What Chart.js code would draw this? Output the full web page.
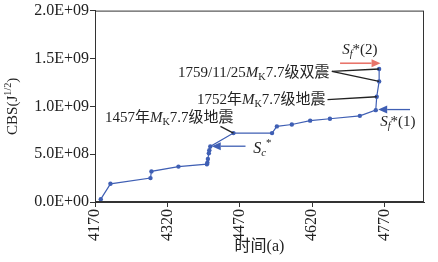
<!DOCTYPE html>
<html>
<head>
<meta charset="utf-8">
<script src="https://cdn.jsdelivr.net/npm/chart.js@4/dist/chart.umd.min.js"></script>
<style>
  html, body { margin: 0; padding: 0; background: #fff; }
  #wrap { width: 438px; height: 262px; }
</style>
</head>
<body>
<div id="wrap"><canvas id="cbsChart" width="438" height="262"></canvas></div>
<script>
// time axis (a) and cumulative Benioff strain values
var years = [4182, 4202, 4285, 4287, 4343, 4402, 4403, 4404, 4406, 4407, 4409, 4457, 4537, 4547, 4578, 4616, 4657, 4719, 4752, 4754, 4759, 4759];
var cbs = [0.3e8, 1.9e8, 2.5e8, 3.2e8, 3.7e8, 3.95e8, 4.1e8, 4.5e8, 5.1e8, 5.4e8, 5.8e8, 7.2e8, 7.2e8, 7.9e8, 8.1e8, 8.5e8, 8.7e8, 9.0e8, 9.6e8, 1.1e9, 1.26e9, 1.39e9];
var xTicks = [4170, 4320, 4470, 4620, 4770];
var yTicks = [0, 5e8, 1e9, 1.5e9, 2e9];

var serif = "'Liberation Serif', 'Noto Sans CJK SC', serif";
var blue = "#3f5fb4";

function fmtE(v) {
    if (v === 0) return "0.0E+00";
    var e = Math.floor(Math.log10(v));
    var m = v / Math.pow(10, e);
    return m.toFixed(1) + "E+" + (e < 10 ? "0" + e : e);
}

// draw text made of pieces: {t, i (italic), sub, sup}
function richWidth(ctx, segs, size) {
    var w = 0;
    segs.forEach(function (s) {
        var fs = (s.sub || s.sup) ? size * 0.68 : size;
        ctx.font = (s.i ? "italic " : "") + fs + "px " + serif;
        w += ctx.measureText(s.t).width;
    });
    return w;
}
function drawRich(ctx, segs, x, y, align, size) {
    var w = richWidth(ctx, segs, size);
    var cx = align === "right" ? x - w : (align === "center" ? x - w / 2 : x);
    ctx.textBaseline = "middle";
    ctx.textAlign = "left";
    segs.forEach(function (s) {
        var fs = (s.sub || s.sup) ? size * 0.68 : size;
        ctx.font = (s.i ? "italic " : "") + fs + "px " + serif;
        var dy = s.sub ? size * 0.3 : (s.sup ? -size * 0.3 : 0);
        ctx.fillText(s.t, cx, y + dy);
        cx += ctx.measureText(s.t).width;
    });
}
function arrow(ctx, x1, y1, x2, y2, color, lw) {
    var a = Math.atan2(y2 - y1, x2 - x1), hl = 9, hw = 4;
    ctx.strokeStyle = color; ctx.fillStyle = color; ctx.lineWidth = lw;
    ctx.beginPath(); ctx.moveTo(x1, y1);
    ctx.lineTo(x2 - hl * Math.cos(a), y2 - hl * Math.sin(a)); ctx.stroke();
    ctx.beginPath();
    ctx.moveTo(x2, y2);
    ctx.lineTo(x2 - hl * Math.cos(a) - hw * Math.sin(a), y2 - hl * Math.sin(a) + hw * Math.cos(a));
    ctx.lineTo(x2 - hl * Math.cos(a) + hw * Math.sin(a), y2 - hl * Math.sin(a) - hw * Math.cos(a));
    ctx.closePath(); ctx.fill();
}
function line(ctx, x1, y1, x2, y2) {
    ctx.strokeStyle = "#222"; ctx.lineWidth = 1.3;
    ctx.beginPath(); ctx.moveTo(x1, y1); ctx.lineTo(x2, y2); ctx.stroke();
}

var notesPlugin = {
    id: "notes",
    afterDraw: function (chart) {
        var ctx = chart.ctx, xs = chart.scales.x, ys = chart.scales.y, a = chart.chartArea;
        var X = function (v) { return xs.getPixelForValue(v); };
        var Y = function (v) { return ys.getPixelForValue(v); };
        ctx.save();
        // frame
        ctx.strokeStyle = "#333"; ctx.lineWidth = 1;
        ctx.strokeRect(a.left + 0.5, a.top + 0.5, a.right - a.left - 1, a.bottom - a.top - 1);

        ctx.fillStyle = "#222";
        var n = years.length;
        // Sf*(2)
        drawRich(ctx, [{t: "S", i: true}, {t: "f", i: true, sub: true}, {t: "*(2)"}], X(4719), Y(1.59e9), "center", 15);
        arrow(ctx, X(4678), Y(1.45e9), X(4762), Y(1.45e9), "#e8746a", 1.6);
        // 1759 double quake
        ctx.fillStyle = "#222";
        drawRich(ctx, [{t: "1759/11/25"}, {t: "M", i: true}, {t: "K", sub: true}, {t: "7.7级双震"}], X(4656), Y(1.35e9), "right", 15);
        line(ctx, X(4661), Y(1.365e9), X(years[n - 1]), Y(cbs[n - 1]));
        line(ctx, X(4661), Y(1.365e9), X(years[n - 2]), Y(cbs[n - 2]));
        // 1752 quake
        ctx.fillStyle = "#222";
        drawRich(ctx, [{t: "1752年"}, {t: "M", i: true}, {t: "K", sub: true}, {t: "7.7级地震"}], X(4648), Y(1.07e9), "right", 15);
        line(ctx, X(4652), Y(1.07e9), X(years[n - 3]), Y(cbs[n - 3]));
        // 1457 quake
        ctx.fillStyle = "#222";
        drawRich(ctx, [{t: "1457年"}, {t: "M", i: true}, {t: "K", sub: true}, {t: "7.7级地震"}], X(4324), Y(8.75e8), "center", 15);
        line(ctx, X(4430), Y(7.9e8), X(years[11]), Y(cbs[11]));
        // Sc*
        arrow(ctx, X(4482), Y(5.83e8), X(4412), Y(5.83e8), blue, 1.3);
        ctx.fillStyle = "#222";
        drawRich(ctx, [{t: "S", i: true}, {t: "c", i: true, sub: true}, {t: "*", sup: true}], X(4517), Y(5.6e8), "center", 16);
        // Sf*(1)
        arrow(ctx, X(4823), Y(9.66e8), X(4757), Y(9.66e8), blue, 1.3);
        ctx.fillStyle = "#222";
        drawRich(ctx, [{t: "S", i: true}, {t: "f", i: true, sub: true}, {t: "*(1)"}], X(4798), Y(8.35e8), "center", 15);

        // axis titles
        ctx.fillStyle = "#222";
        drawRich(ctx, [{t: "时间(a)"}], (a.left + a.right) / 2, 247, "center", 16);
        ctx.translate(13, (a.top + a.bottom) / 2);
        ctx.rotate(-Math.PI / 2);
        drawRich(ctx, [{t: "CBS(J"}, {t: "1/2", sup: true}, {t: ")"}], 0, 0, "center", 15);
        ctx.restore();
    }
};

var cbsCtx = document.getElementById("cbsChart");

var cbsData = {
    datasets: [
        {
            data: years.map(function (y, i) { return {x: y, y: cbs[i]}; }),
            borderColor: blue,
            backgroundColor: blue,
            borderWidth: 1.2,
            pointRadius: 2.2,
            pointHoverRadius: 2.2,
            pointBorderWidth: 0,
            tension: 0
        }
    ]
};

var cbsChart = new Chart(cbsCtx, {
    type: "line",
    data: cbsData,
    options: {
        responsive: false,
        animation: false,
        layout: {padding: {top: 10, right: 14, left: 0, bottom: 0}},
        plugins: {legend: {display: false}, tooltip: {enabled: false}},
        scales: {
            x: {
                type: "linear",
                min: 4170,
                max: 4852,
                afterBuildTicks: function (s) { s.ticks = xTicks.map(function (v) { return {value: v}; }); },
                afterFit: function (s) { s.height = 60; },
                grid: {drawOnChartArea: false, drawTicks: true, tickLength: 5, color: "#333"},
                border: {color: "#333"},
                ticks: {
                    minRotation: 90, maxRotation: 90, padding: 2, color: "#222",
                    font: {family: serif, size: 16},
                    callback: function (v) { return String(v); }
                }
            },
            y: {
                min: 0,
                max: 2e9,
                afterBuildTicks: function (s) { s.ticks = yTicks.map(function (v) { return {value: v}; }); },
                afterFit: function (s) { s.width = 95; },
                grid: {drawOnChartArea: false, drawTicks: true, tickLength: 5, color: "#333"},
                border: {color: "#333"},
                ticks: {
                    padding: 1, color: "#222",
                    font: {family: serif, size: 16},
                    callback: function (v) { return fmtE(v); }
                }
            }
        }
    },
    plugins: [notesPlugin]
});
</script>
</body>
</html>
